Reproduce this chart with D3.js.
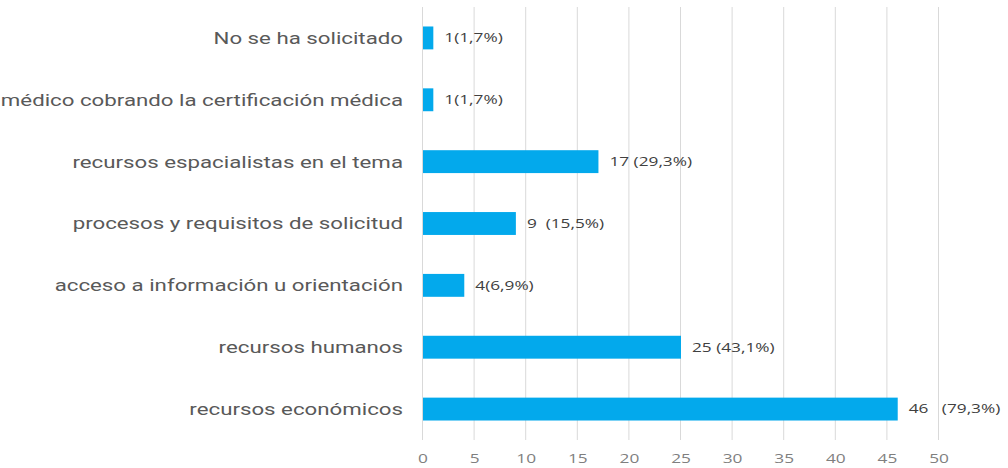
<!DOCTYPE html>
<html>
<head>
<meta charset="utf-8">
<script src="https://cdn.jsdelivr.net/npm/d3@7"></script>
<style>
  body { margin: 0; background: #fff; }
  svg { display: block; }
</style>
</head>
<body>
<div id="viz"></div>
<script>
const categories = [
  'No se ha solicitado',
  'médico cobrando la certificación médica',
  'recursos espacialistas en el tema',
  'procesos y requisitos de solicitud',
  'acceso a información u orientación',
  'recursos humanos',
  'recursos económicos'
];
const values = [1, 1, 17, 9, 4, 25, 46];
const valueLabels = ['1(1,7%)', '1(1,7%)', '17 (29,3%)', '9  (15,5%)', '4(6,9%)', '25 (43,1%)', '46   (79,3%)'];
const ticks = [0, 5, 10, 15, 20, 25, 30, 35, 40, 45, 50];

const width = 1008, height = 468;
const margin = {top: 7, right: 69, bottom: 28, left: 423};
// the source picture is stretched sideways, so texts get a horizontal scale
const stretch = {cat: 1.31, val: 1.38, tick: 1.33};

const svg = d3.select('#viz').append('svg')
  .attr('width', width)
  .attr('height', height);

const x = d3.scaleLinear()
  .domain([0, 50])
  .range([margin.left, width - margin.right]);

const y = d3.scaleBand()
  .domain(categories)
  .range([margin.top, height - margin.bottom])
  .paddingInner(0.63)
  .paddingOuter(0.315);

// grid
svg.append('g')
  .selectAll('line')
  .data(ticks)
  .enter()
  .append('line')
  .attr('x1', d => x(d) - 0.5)
  .attr('x2', d => x(d) - 0.5)
  .attr('y1', margin.top)
  .attr('y2', height - margin.bottom)
  .attr('stroke', '#d9d9d9')
  .attr('stroke-width', 1);

// tick labels
svg.append('g')
  .selectAll('text')
  .data(ticks)
  .enter()
  .append('text')
  .attr('transform', d => `translate(${x(d)},463) scale(${stretch.tick},1)`)
  .attr('text-anchor', 'middle')
  .attr('font-family', 'Open Sans, sans-serif')
  .attr('font-size', 13)
  .attr('fill', '#7f7f7f')
  .text(d => d);

// bars
svg.append('g')
  .selectAll('rect')
  .data(values)
  .enter()
  .append('rect')
  .attr('x', x(0))
  .attr('y', (d, i) => y(categories[i]))
  .attr('width', d => x(d) - x(0))
  .attr('height', y.bandwidth())
  .attr('fill', '#03a9ec');

// category labels
svg.append('g')
  .selectAll('text')
  .data(categories)
  .enter()
  .append('text')
  .attr('transform', d => `translate(403,${y(d) + y.bandwidth() / 2}) scale(${stretch.cat},1)`)
  .attr('dy', '0.35em')
  .attr('text-anchor', 'end')
  .attr('font-family', 'Roboto, sans-serif')
  .attr('font-size', 17)
  .attr('fill', '#595959')
  .text(d => d);

// value labels
svg.append('g')
  .selectAll('text')
  .data(values)
  .enter()
  .append('text')
  .attr('transform', (d, i) => `translate(${x(d) + 11},${y(categories[i]) + y.bandwidth() / 2}) scale(${stretch.val},1)`)
  .attr('dy', '0.35em')
  .attr('font-family', 'Open Sans, sans-serif')
  .attr('font-size', 12.5)
  .attr('fill', '#404040')
  .style('white-space', 'pre')
  .text((d, i) => valueLabels[i]);
</script>
</body>
</html>
